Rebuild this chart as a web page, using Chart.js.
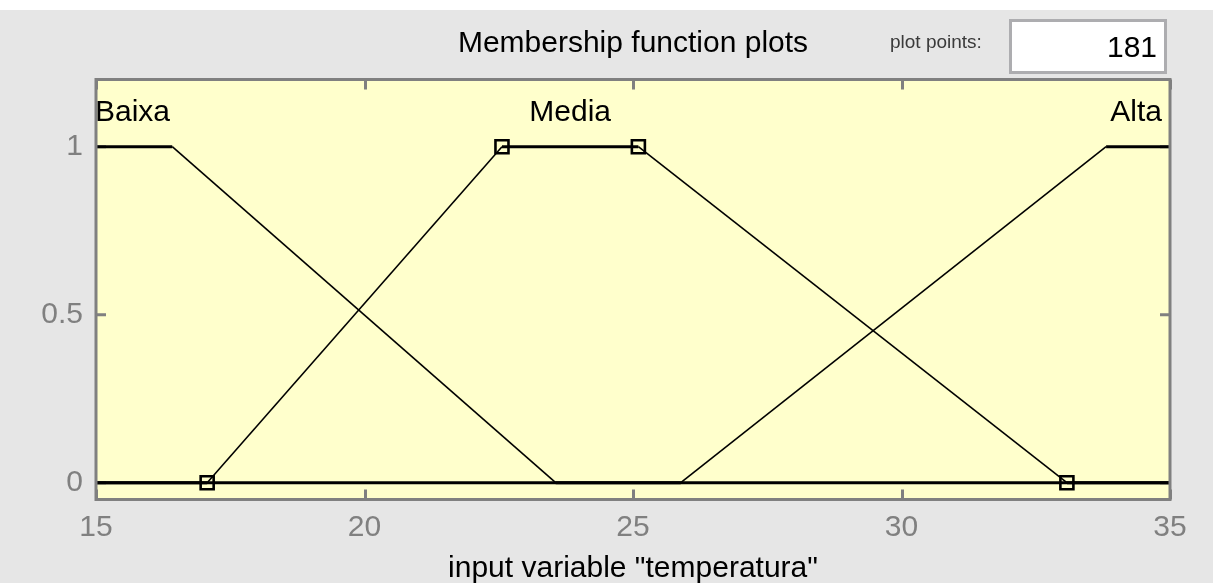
<!DOCTYPE html>
<html>
<head>
<meta charset="utf-8">
<title>Membership function plots</title>
<script src="https://cdn.jsdelivr.net/npm/chart.js@4/dist/chart.umd.min.js"></script>
<style>
  html, body { margin: 0; padding: 0; background: #e6e6e6; }
  #wrap { width: 1213px; height: 583px; position: relative; }
  canvas { display: block; }
</style>
</head>
<body>
<div id="wrap"><canvas id="mf" width="1213" height="583"></canvas></div>
<script>
// Axis ticks
const xTickValues = [15, 20, 25, 30, 35];
const yTickValues = [0, 0.5, 1];

// Membership functions of input variable "temperatura" (breakpoints)
const mfNames = ['Baixa', 'Media', 'Alta'];
const baixaX = [15, 16.42, 23.56, 35];
const baixaY = [1, 1, 0, 0];
const mediaX = [15, 17.07, 22.56, 25.10, 33.08, 35];
const mediaY = [0, 0, 1, 1, 0, 0];
const altaX = [15, 25.89, 33.81, 35];
const altaY = [0, 0, 1, 1];

// Parameters of the selected function (Media), shown with square handles
const mediaParamX = [17.07, 22.56, 25.10, 33.08];
const mediaParamY = [0, 1, 1, 0];

const plotPoints = 181;
const FONT = "'Liberation Sans', Arial, Helvetica, sans-serif";

const toPoints = (xs, ys) => xs.map((x, i) => ({ x: x, y: ys[i] }));

// Flat parts of a curve are drawn heavier than the slopes
const segWidth = ctx => (ctx.p0.parsed.y === ctx.p1.parsed.y ? 3 : 1.6);

function mfDataset(label, xs, ys) {
  return {
    label: label,
    data: toPoints(xs, ys),
    showLine: true,
    borderColor: '#000000',
    borderWidth: 1.6,
    pointRadius: 0,
    pointHoverRadius: 0,
    segment: { borderWidth: segWidth },
    order: 2
  };
}

const framePlugin = {
  id: 'frame',
  beforeDraw(chart) {
    const { ctx, chartArea: a } = chart;
    ctx.save();
    ctx.fillStyle = '#e6e6e6';
    ctx.fillRect(0, 0, chart.width, chart.height);
    ctx.fillStyle = '#ffffff';
    ctx.fillRect(0, 0, chart.width, 10);
    ctx.fillStyle = '#ffffcc';
    ctx.fillRect(a.left, a.top, a.right - a.left, a.bottom - a.top);

    // "plot points" field
    ctx.fillStyle = '#3a3a3a';
    ctx.font = '19px ' + FONT;
    ctx.textAlign = 'left';
    ctx.textBaseline = 'alphabetic';
    ctx.fillText('plot points:', 890, 48);
    ctx.fillStyle = '#ffffff';
    ctx.fillRect(1010, 20, 156, 53);
    ctx.strokeStyle = '#adadb0';
    ctx.lineWidth = 3;
    ctx.strokeRect(1010.5, 20.5, 155, 52);
    ctx.fillStyle = '#000000';
    ctx.font = '30px ' + FONT;
    ctx.textAlign = 'right';
    ctx.fillText(String(plotPoints), 1157, 57);
    ctx.restore();
  },
  beforeDatasetsDraw(chart) {
    const { ctx, chartArea: a, scales: { x, y } } = chart;
    ctx.save();
    // Inward ticks on all four sides, under the curves
    ctx.strokeStyle = '#808080';
    ctx.lineWidth = 3;
    ctx.beginPath();
    const tl = 10;
    xTickValues.forEach(v => {
      const px = Math.round(x.getPixelForValue(v)) + 0.5;
      ctx.moveTo(px, a.bottom); ctx.lineTo(px, a.bottom - tl);
      ctx.moveTo(px, a.top); ctx.lineTo(px, a.top + tl);
    });
    yTickValues.forEach(v => {
      const py = y.getPixelForValue(v);
      ctx.moveTo(a.left, py); ctx.lineTo(a.left + tl, py);
      ctx.moveTo(a.right, py); ctx.lineTo(a.right - tl, py);
    });
    ctx.stroke();
    ctx.restore();
  },
  afterDatasetsDraw(chart) {
    const { ctx, chartArea: a, scales: { x, y } } = chart;
    ctx.save();
    // Function names above each curve
    ctx.fillStyle = '#000000';
    ctx.font = '30px ' + FONT;
    ctx.textBaseline = 'middle';
    const ly = y.getPixelForValue(1.1);
    ctx.textAlign = 'left';
    ctx.fillText(mfNames[0], x.getPixelForValue(baixaX[0]) - 1, ly);
    ctx.textAlign = 'center';
    ctx.fillText(mfNames[1], x.getPixelForValue((mediaParamX[1] + mediaParamX[2]) / 2), ly);
    ctx.textAlign = 'right';
    ctx.fillText(mfNames[2], x.getPixelForValue(altaX[altaX.length - 1]) - 8, ly);

    // Axes box
    ctx.strokeStyle = '#808080';
    ctx.lineWidth = 3;
    ctx.strokeRect(a.left, a.top, a.right - a.left, a.bottom - a.top);
    ctx.restore();
  }
};

new Chart(document.getElementById('mf'), {
  type: 'scatter',
  data: {
    datasets: [
      mfDataset(mfNames[0], baixaX, baixaY),
      mfDataset(mfNames[1], mediaX, mediaY),
      mfDataset(mfNames[2], altaX, altaY),
      {
        label: 'Media parameters',
        data: toPoints(mediaParamX, mediaParamY),
        showLine: false,
        pointStyle: 'rect',
        pointRadius: 9.2,
        pointHoverRadius: 9.2,
        pointBorderWidth: 2.6,
        pointBorderColor: '#000000',
        pointBackgroundColor: 'rgba(0,0,0,0)',
        order: 1
      }
    ]
  },
  options: {
    responsive: false,
    animation: false,
    events: [],
    layout: { padding: { left: 0, right: 43, top: 0, bottom: 0 } },
    plugins: {
      legend: { display: false },
      tooltip: { enabled: false },
      title: {
        display: true,
        text: 'Membership function plots',
        fullSize: false,
        color: '#000000',
        font: { family: FONT, size: 30, weight: 'normal', lineHeight: 1.2 },
        padding: { top: 25.5, bottom: 18 }
      }
    },
    scales: {
      x: {
        type: 'linear',
        min: 15,
        max: 35,
        afterBuildTicks: s => { s.ticks = xTickValues.map(v => ({ value: v })); },
        afterFit: s => { s.height = 83.5; },
        grid: { display: false, drawTicks: false },
        border: { display: false },
        ticks: {
          color: '#808080',
          padding: 10.5,
          maxRotation: 0,
          font: { family: FONT, size: 30, lineHeight: 1.2 }
        },
        title: {
          display: true,
          text: 'input variable "temperatura"',
          color: '#000000',
          font: { family: FONT, size: 30, lineHeight: 1.2 },
          padding: { top: 0, bottom: -4 }
        }
      },
      y: {
        type: 'linear',
        min: -0.05,
        max: 1.2,
        afterBuildTicks: s => { s.ticks = yTickValues.map(v => ({ value: v })); },
        afterFit: s => { s.width = 96; },
        grid: { display: false, drawTicks: false },
        border: { display: false },
        ticks: {
          color: '#808080',
          padding: 13,
          font: { family: FONT, size: 30, lineHeight: 1.2 },
          callback: v => String(v)
        }
      }
    }
  },
  plugins: [framePlugin]
});
</script>
</body>
</html>
